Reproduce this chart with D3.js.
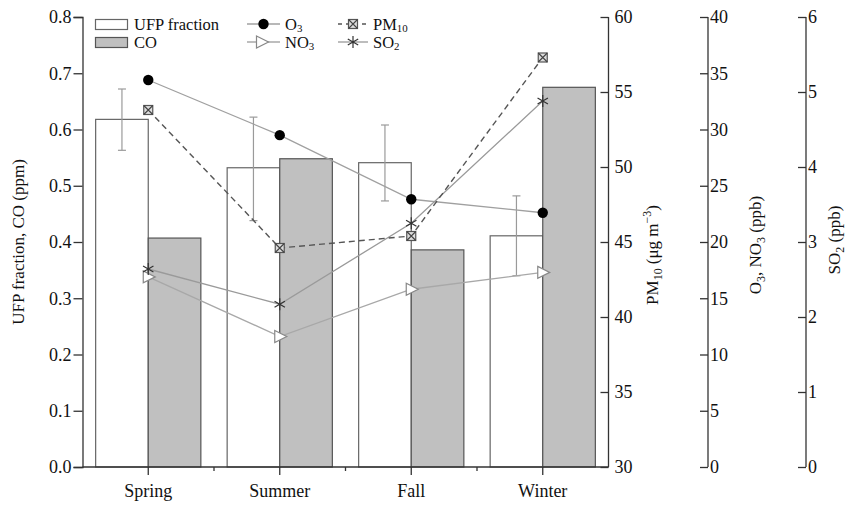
<!DOCTYPE html>
<html><head><meta charset="utf-8">
<script src="https://cdn.jsdelivr.net/npm/d3@7"></script>
<style>
html,body{margin:0;padding:0;background:#fff;}
text{font-family:"Liberation Serif","Times New Roman",serif;fill:#111;}
</style></head>
<body><svg id="chart" width="849" height="507"></svg>
<script>
// Seasonal data
const seasons = ["Spring", "Summer", "Fall", "Winter"];
const ufpFraction = [0.618, 0.532, 0.541, 0.411];
const ufpErrLow  = [0.563, 0.438, 0.473, 0.340];
const ufpErrHigh = [0.672, 0.622, 0.608, 0.482];
const coPpm = [0.407, 0.548, 0.386, 0.675];
const o3Ppb = [34.4, 29.5, 23.8, 22.6];
const no3Ppb = [16.9, 11.6, 15.8, 17.3];
const pm10 = [53.8, 44.6, 45.4, 57.3];
const so2Ppb = [2.64, 2.17, 3.25, 4.88];

const leftTicks = [0, 0.1, 0.2, 0.3, 0.4, 0.5, 0.6, 0.7, 0.8];
const pmTicks = [30, 35, 40, 45, 50, 55, 60];
const o3Ticks = [0, 5, 10, 15, 20, 25, 30, 35, 40];
const so2Ticks = [0, 1, 2, 3, 4, 5, 6];

const svg = d3.select("#chart");
const L = 82.5, R = 608.5, T = 17, B = 467;
const axisColor = "#333";
const fsTick = 18, fsTitle = 17, fsLeg = 16.5;

const x = d3.scaleBand().domain(seasons).range([L, R]).paddingInner(0.2).paddingOuter(0.1);
const bw = x.bandwidth();
const cx = s => x(s) + bw / 2;
const yL = d3.scaleLinear().domain([0, 0.8]).range([B, T]);
const yPM = d3.scaleLinear().domain([30, 60]).range([B, T]);
const yO3 = d3.scaleLinear().domain([0, 40]).range([B, T]);
const ySO2 = d3.scaleLinear().domain([0, 6]).range([B, T]);

// Bars
const bars = svg.append("g");
bars.selectAll("rect.ufp").data(seasons).join("rect")
  .attr("x", s => x(s)).attr("width", bw / 2)
  .attr("y", (s, i) => yL(ufpFraction[i])).attr("height", (s, i) => B - yL(ufpFraction[i]))
  .attr("fill", "#fff").attr("stroke", "#666").attr("stroke-width", 1.2);
bars.selectAll("rect.co").data(seasons).join("rect")
  .attr("x", s => cx(s)).attr("width", bw / 2)
  .attr("y", (s, i) => yL(coPpm[i])).attr("height", (s, i) => B - yL(coPpm[i]))
  .attr("fill", "#c0c0c0").attr("stroke", "#555").attr("stroke-width", 1.2);

// Error bars on UFP fraction
const eb = svg.append("g").attr("stroke", "#9a9a9a").attr("stroke-width", 1.2);
seasons.forEach((s, i) => {
  const ex = x(s) + bw / 4;
  eb.append("line").attr("x1", ex).attr("x2", ex).attr("y1", yL(ufpErrLow[i])).attr("y2", yL(ufpErrHigh[i]));
  [ufpErrLow[i], ufpErrHigh[i]].forEach(v =>
    eb.append("line").attr("x1", ex - 4).attr("x2", ex + 4).attr("y1", yL(v)).attr("y2", yL(v)));
});

// Axes
function axisG(tr) { return svg.append("g").attr("transform", tr); }
function styleAxis(g) {
  g.selectAll("path,line").attr("stroke", axisColor).attr("stroke-width", 1.3);
  g.selectAll("text").attr("font-size", fsTick).attr("font-family", "Liberation Serif").attr("fill", "#111");
}
function stepValues(step, lo, hi) {
  const out = [];
  for (let v = lo; v <= hi + 1e-9; v += step) out.push(+v.toFixed(4));
  return out;
}

// left axis
const gl = axisG(`translate(${L},0)`);
gl.call(d3.axisLeft(yL).tickValues(stepValues(0.05, 0, 0.8)).tickSize(4).tickFormat(""));
gl.call(d3.axisLeft(yL).tickValues(leftTicks).tickSize(9).tickPadding(2).tickFormat(d3.format(".1f")));
styleAxis(gl);

// bottom axis
const gb = axisG(`translate(0,${B})`);
gb.append("line").attr("x1", L).attr("x2", R).attr("y1", 0).attr("y2", 0);
gb.selectAll("line.maj").data(seasons).join("line").attr("x1", cx).attr("x2", cx).attr("y1", 0).attr("y2", 8);
gb.selectAll("line.min").data(seasons.slice(1)).join("line").attr("x1", s => x(s) - x.step() * 0.1).attr("x2", s => x(s) - x.step() * 0.1).attr("y1", 0).attr("y2", 4);
gb.selectAll("text").data(seasons).join("text").attr("x", cx).attr("y", 30).attr("text-anchor", "middle").text(d => d);
styleAxis(gb);

// PM10 axis (ticks pointing inward)
const gp = axisG(`translate(${R},0)`);
gp.call(d3.axisRight(yPM).tickValues(stepValues(2.5, 30, 60)).tickSize(-4).tickFormat(""));
gp.call(d3.axisRight(yPM).tickValues(pmTicks).tickSize(-8));
gp.selectAll("text").attr("x", 6);

// O3, NO3 axis
const gO = axisG(`translate(708,0)`);
gO.call(d3.axisRight(yO3).tickValues(stepValues(2.5, 0, 40)).tickSize(-4).tickFormat(""));
gO.call(d3.axisRight(yO3).tickValues(o3Ticks).tickSize(-8));
gO.selectAll("text").attr("x", 2);

// SO2 axis
const gS = axisG(`translate(806,0)`);
gS.call(d3.axisRight(ySO2).tickValues(stepValues(0.5, 0, 6)).tickSize(-4).tickFormat(""));
gS.call(d3.axisRight(ySO2).tickValues(so2Ticks).tickSize(-8).tickFormat(d3.format("d")));
gS.selectAll("text").attr("x", 2);

[gp, gO, gS].forEach(g => {
  g.selectAll(".domain").remove();
  g.append("line").attr("x1", 0).attr("x2", 0).attr("y1", T).attr("y2", B);
  styleAxis(g);
});

// Axis titles
function vTitle(xp, yp, parts) {
  const t = svg.append("text").attr("transform", `translate(${xp},${yp}) rotate(-90)`)
    .attr("text-anchor", "middle").attr("font-size", fsTitle);
  parts.forEach(p => {
    const ts = t.append("tspan").text(p.t);
    if (p.sub) ts.attr("font-size", fsTitle * 0.7).attr("dy", 4);
    if (p.sup) ts.attr("font-size", fsTitle * 0.7).attr("dy", -7);
    if (p.back) ts.attr("dy", p.back);
  });
}
vTitle(24, 242, [{t: "UFP fraction, CO (ppm)"}]);
vTitle(658, 255, [{t: "PM"}, {t: "10", sub: true}, {t: " (μg m", back: -4}, {t: "−3", sup: true}, {t: ")", back: 7}]);
vTitle(761, 245, [{t: "O"}, {t: "3", sub: true}, {t: ", NO", back: -4}, {t: "3", sub: true}, {t: " (ppb)", back: -4}]);
vTitle(840, 240, [{t: "SO"}, {t: "2", sub: true}, {t: " (ppb)", back: -4}]);

// Marker shapes
function marker(g, type, px, py) {
  if (type === "o3") {
    g.append("circle").attr("cx", px).attr("cy", py).attr("r", 5.2).attr("fill", "#000");
  } else if (type === "no3") {
    g.append("path").attr("d", `M${px - 5},${py - 6}L${px + 7},${py}L${px - 5},${py + 6}Z`)
      .attr("fill", "#fff").attr("stroke", "#888").attr("stroke-width", 1.2);
  } else if (type === "pm") {
    const s = 4.5;
    g.append("rect").attr("x", px - s).attr("y", py - s).attr("width", 2 * s).attr("height", 2 * s)
      .attr("fill", "#ddd").attr("stroke", "#555").attr("stroke-width", 1.2);
    g.append("path").attr("d", `M${px - s},${py - s}L${px + s},${py + s}M${px + s},${py - s}L${px - s},${py + s}`)
      .attr("stroke", "#444").attr("stroke-width", 1.1);
  } else if (type === "so2") {
    const r = 6;
    let d = "";
    [90, 30, 150].forEach(a => {
      const dx = r * Math.cos(a * Math.PI / 180), dy = r * Math.sin(a * Math.PI / 180);
      d += `M${px - dx},${py - dy}L${px + dx},${py + dy}`;
    });
    g.append("path").attr("d", d).attr("stroke", "#333").attr("stroke-width", 1.2).attr("fill", "none");
  }
}

const seriesDefs = [
  {key: "o3", vals: o3Ppb, y: yO3, color: "#a0a0a0", dash: null, w: 1.3},
  {key: "no3", vals: no3Ppb, y: yO3, color: "#a8a8a8", dash: null, w: 1.3},
  {key: "so2", vals: so2Ppb, y: ySO2, color: "#9a9a9a", dash: null, w: 1.3},
  {key: "pm", vals: pm10, y: yPM, color: "#555", dash: "6,4", w: 1.4}
];
const lineG = svg.append("g");
seriesDefs.forEach(sd => {
  const ln = d3.line().x((v, i) => cx(seasons[i])).y(v => sd.y(v));
  lineG.append("path").attr("d", ln(sd.vals)).attr("fill", "none")
    .attr("stroke", sd.color).attr("stroke-width", sd.w).attr("stroke-dasharray", sd.dash);
});
seriesDefs.forEach(sd => {
  sd.vals.forEach((v, i) => marker(lineG, sd.key, cx(seasons[i]), sd.y(v)));
});

// Legend
const lg = svg.append("g");
lg.append("rect").attr("x", 95.5).attr("y", 19.5).attr("width", 32).attr("height", 10).attr("fill", "#fff").attr("stroke", "#666").attr("stroke-width", 1.2);
lg.append("rect").attr("x", 95.5).attr("y", 37.5).attr("width", 32).attr("height", 10).attr("fill", "#c0c0c0").attr("stroke", "#555").attr("stroke-width", 1.2);
lg.append("text").attr("x", 134).attr("y", 29.5).attr("font-size", fsLeg).text("UFP fraction");
lg.append("text").attr("x", 134).attr("y", 48).attr("font-size", fsLeg).text("CO");

function legLine(x1, x2, yy, sd) {
  lg.append("line").attr("x1", x1).attr("x2", x2).attr("y1", yy).attr("y2", yy)
    .attr("stroke", sd.color).attr("stroke-width", sd.w).attr("stroke-dasharray", sd.key === "pm" ? "4,4" : null);
  marker(lg, sd.key, (x1 + x2) / 2 - (sd.key === "no3" ? 2 : 0), yy);
}
function legText(xp, yp, main, sub) {
  const t = lg.append("text").attr("x", xp).attr("y", yp).attr("font-size", fsLeg);
  t.append("tspan").text(main);
  t.append("tspan").text(sub).attr("font-size", fsLeg * 0.66).attr("dy", 2);
}
legLine(247, 280, 24, seriesDefs[0]); legText(285, 29.5, "O", "3");
legLine(247, 280, 42, seriesDefs[1]); legText(285, 48, "NO", "3");
legLine(338, 368, 24, seriesDefs[3]); legText(373, 29.5, "PM", "10");
legLine(338, 368, 42, seriesDefs[2]); legText(373, 48, "SO", "2");
</script></body></html>
